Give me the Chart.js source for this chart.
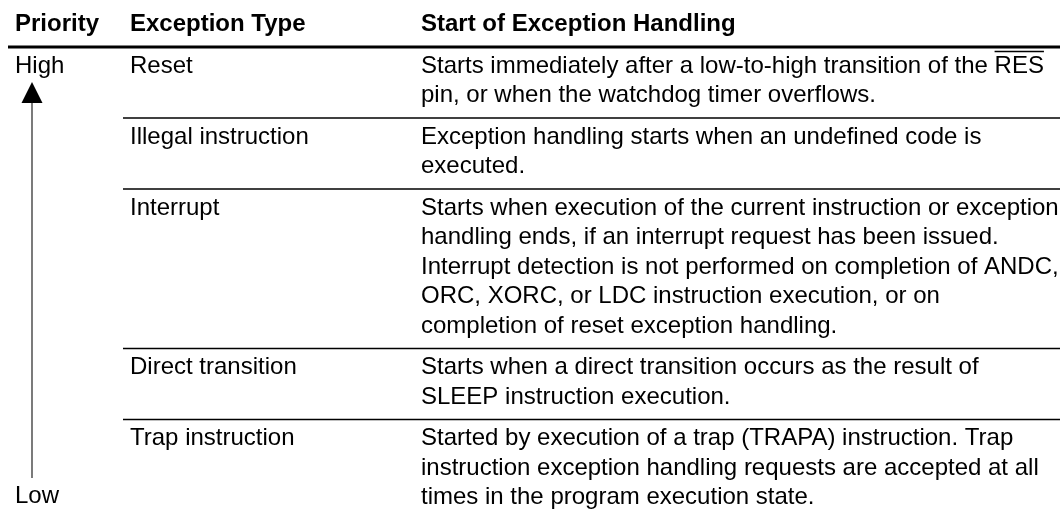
<!DOCTYPE html>
<html>
<head>
<meta charset="utf-8">
<script src="https://cdn.jsdelivr.net/npm/chart.js"></script>
<style>
  html, body { margin: 0; padding: 0; background: #fff; }
  #wrap { width: 1060px; height: 518px; }
</style>
</head>
<body>
<div id="wrap"><canvas id="table" width="1060" height="518"></canvas></div>
<script>
// Table content
const headers = ["Priority", "Exception Type", "Start of Exception Handling"];
const exceptionTypes = [
    "Reset",
    "Illegal instruction",
    "Interrupt",
    "Direct transition",
    "Trap instruction",
];
const descriptions = [
    ["Starts immediately after a low-to-high transition of the RES",
     "pin, or when the watchdog timer overflows."],
    ["Exception handling starts when an undefined code is",
     "executed."],
    ["Starts when execution of the current instruction or exception",
     "handling ends, if an interrupt request has been issued.",
     "Interrupt detection is not performed on completion of ANDC,",
     "ORC, XORC, or LDC instruction execution, or on",
     "completion of reset exception handling."],
    ["Starts when a direct transition occurs as the result of",
     "SLEEP instruction execution."],
    ["Started by execution of a trap (TRAPA) instruction. Trap",
     "instruction exception handling requests are accepted at all",
     "times in the program execution state."],
];
const priorityLabels = ["High", "Low"];
const overlined = ["RES"]; // active-low signal names

// Layout (canvas pixels, mapped through the hidden scales)
const FONT = '"Liberation Sans", Arial, Helvetica, sans-serif';
const colX = [15, 130, 421];
const headerBaseline = 31;
const headerRuleY = 47;
const lineHeight = 29.5;
const rowPad = 12;
const firstBaseline = 25.5;

const tablePlugin = {
    id: "tablePlugin",
    afterDraw(chart) {
        const { ctx } = chart;
        const sx = chart.scales.x, sy = chart.scales.y;
        const px = (v) => sx.getPixelForValue(v);
        const py = (v) => sy.getPixelForValue(v);

        function rule(x0, x1, yv, w, color) {
            ctx.beginPath();
            ctx.strokeStyle = color || "#000";
            ctx.lineWidth = w;
            ctx.moveTo(px(x0), py(yv));
            ctx.lineTo(px(x1), py(yv));
            ctx.stroke();
        }

        function text(str, xv, yv) {
            ctx.fillText(str, px(xv), py(yv));
            // overline for active-low names
            overlined.forEach((word) => {
                const i = str.indexOf(word);
                if (i < 0) return;
                const left = ctx.measureText(str.slice(0, i)).width;
                const w = ctx.measureText(word).width;
                ctx.beginPath();
                ctx.lineWidth = 1.3;
                ctx.strokeStyle = "#000";
                const oy = py(yv) - 21;
                ctx.moveTo(px(xv) + left, oy);
                ctx.lineTo(px(xv) + left + w, oy);
                ctx.stroke();
            });
        }

        ctx.save();
        ctx.fillStyle = "#000";
        ctx.textBaseline = "alphabetic";
        ctx.textAlign = "left";

        // Header
        ctx.font = "bold 24px " + FONT;
        headers.forEach((h, i) => ctx.fillText(h, px(colX[i]), py(headerBaseline)));
        rule(8, 1060, headerRuleY, 2.8);

        // Rows
        ctx.font = "24px " + FONT;
        let top = headerRuleY;
        exceptionTypes.forEach((type, r) => {
            if (r > 0) rule(123, 1060, top, 1.7);
            const base = top + firstBaseline;
            text(type, colX[1], base);
            descriptions[r].forEach((line, k) => text(line, colX[2], base + k * lineHeight));
            top += descriptions[r].length * lineHeight + rowPad;
        });

        // Priority arrow
        const ax = 32, tipY = 82, baseY = 103, endY = 478;
        ctx.beginPath();
        ctx.strokeStyle = "#222";
        ctx.lineWidth = 1.2;
        ctx.moveTo(px(ax), py(baseY));
        ctx.lineTo(px(ax), py(endY));
        ctx.stroke();
        ctx.beginPath();
        ctx.fillStyle = "#000";
        ctx.moveTo(px(ax), py(tipY));
        ctx.lineTo(px(ax - 10.5), py(baseY));
        ctx.lineTo(px(ax + 10.5), py(baseY));
        ctx.closePath();
        ctx.fill();

        text(priorityLabels[0], colX[0], headerRuleY + firstBaseline);
        text(priorityLabels[1], colX[0], 503);
        ctx.restore();
    },
};

new Chart(document.getElementById("table"), {
    type: "scatter",
    data: { datasets: [{ data: [], pointRadius: 0 }] },
    options: {
        responsive: false,
        animation: false,
        events: [],
        layout: { padding: 0 },
        plugins: { legend: { display: false }, tooltip: { enabled: false } },
        scales: {
            x: { type: "linear", min: 0, max: 1060, display: false },
            y: { type: "linear", min: 0, max: 518, reverse: true, display: false },
        },
    },
    plugins: [tablePlugin],
});
</script>
</body>
</html>
